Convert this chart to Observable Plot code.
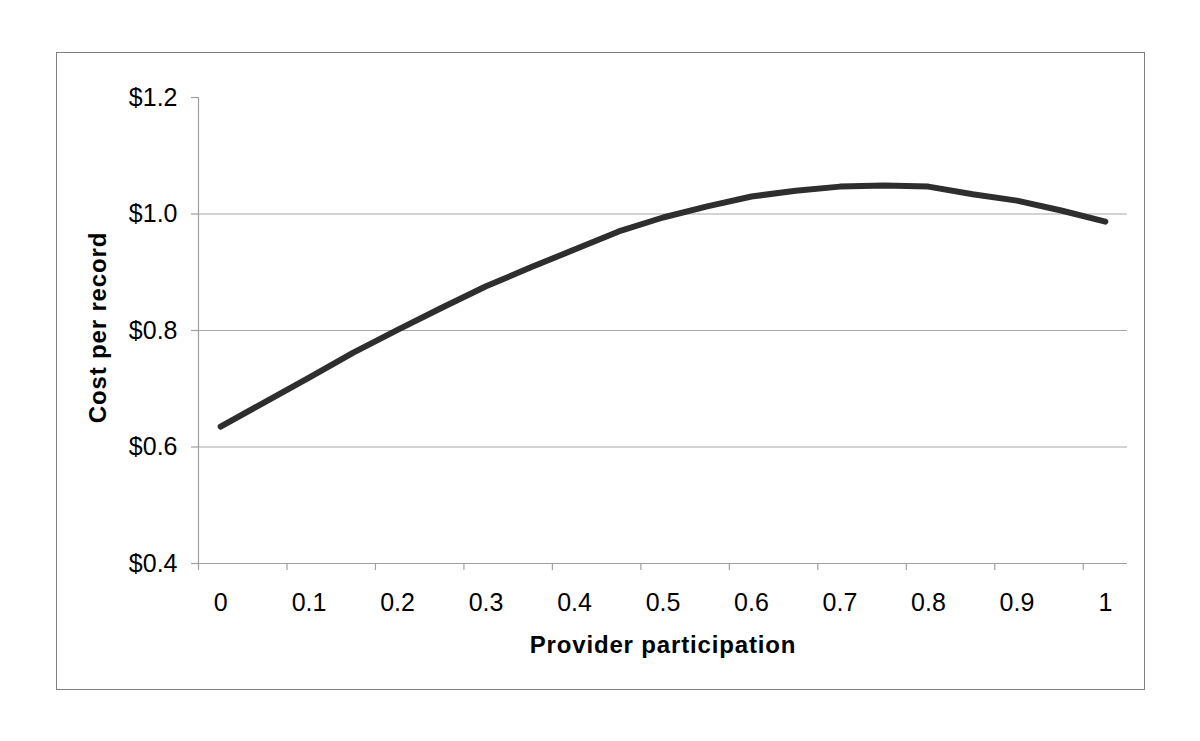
<!DOCTYPE html>
<html>
<head>
<meta charset="utf-8">
<script src="https://cdn.jsdelivr.net/npm/d3@7"></script>
<script src="https://cdn.jsdelivr.net/npm/@observablehq/plot@0.6"></script>
<style>
  html, body { margin: 0; padding: 0; background: #fff; }
  #wrap { position: relative; width: 1200px; height: 741px; }
  #border { position: absolute; left: 56px; top: 52px; width: 1087px; height: 636px; border: 1.5px solid #808080; pointer-events: none; }
</style>
</head>
<body>
<div id="wrap"><div id="border"></div></div>
<script>
// Data
const participation = [0, 0.05, 0.1, 0.15, 0.2, 0.25, 0.3, 0.35, 0.4, 0.45, 0.5, 0.55, 0.6, 0.65, 0.7, 0.75, 0.8, 0.85, 0.9, 0.95, 1];
const costPerRecord = [0.635, 0.677, 0.719, 0.762, 0.801, 0.839, 0.876, 0.908, 0.939, 0.970, 0.994, 1.013, 1.030, 1.040, 1.047, 1.049, 1.047, 1.034, 1.023, 1.006, 0.987];
const xTickLabels = [0, 0.1, 0.2, 0.3, 0.4, 0.5, 0.6, 0.7, 0.8, 0.9, 1];
const xTickMarks = [-0.025, 0.075, 0.175, 0.275, 0.375, 0.475, 0.575, 0.675, 0.775, 0.875, 0.975];
const yTicks = [0.4, 0.6, 0.8, 1.0, 1.2];
const yGrid = [0.6, 0.8, 1.0];
const xTitle = "Provider participation";
const yTitle = "Cost per record";

const data = participation.map((p, i) => ({p, c: costPerRecord[i]}));

const font = "'Liberation Sans', Arial, sans-serif";

const chart = Plot.plot({
  width: 1200,
  height: 741,
  marginLeft: 198,
  marginRight: 73,
  marginTop: 97,
  marginBottom: 178,
  style: {fontFamily: font, background: "transparent", color: "#000"},
  x: {domain: [-0.025, 1.025], axis: null},
  y: {domain: [0.4, 1.2], axis: null},
  marks: [
    Plot.ruleY(yGrid, {stroke: "#a8a8a8", strokeWidth: 1.2, strokeOpacity: 1}),
    Plot.ruleX([-0.025], {stroke: "#a0a0a0", strokeWidth: 1.2, strokeOpacity: 1}),
    Plot.ruleY([0.4], {stroke: "#a0a0a0", strokeWidth: 1.2, strokeOpacity: 1}),
    Plot.axisY({ticks: yTicks, tickSize: 7, tickPadding: 14, stroke: "#a0a0a0", strokeWidth: 1.2,
      tickFormat: d => "$" + d.toFixed(1), fontSize: 25, label: null, color: "#000"}),
    Plot.axisX({ticks: xTickMarks, tickSize: 7, tickFormat: () => "", stroke: "#a0a0a0", strokeWidth: 1.2, label: null}),
    Plot.axisX({ticks: xTickLabels, tickSize: 0, tickPadding: 30, tickFormat: d => String(d), fontSize: 25, label: null}),
    Plot.line(data, {x: "p", y: "c", stroke: "#2e2e2e", strokeWidth: 6, strokeLinecap: "round", strokeLinejoin: "round"}),
    Plot.text([xTitle], {frameAnchor: "bottom", lineAnchor: "middle", textAnchor: "middle", dy: 82, text: d => d, fontSize: 24, fontWeight: "bold", fill: "#000"}),
    Plot.text([yTitle], {frameAnchor: "left", lineAnchor: "middle", textAnchor: "middle", dx: -100, dy: -3, rotate: -90, text: d => d, fontSize: 24, fontWeight: "bold", fill: "#000"})
  ]
});
document.getElementById("wrap").appendChild(chart);
chart.style.position = "absolute";
chart.style.left = "0";
chart.style.top = "0";
d3.select(chart).selectAll("text")
  .filter(function () { return this.textContent === xTitle || this.textContent === yTitle; })
  .style("letter-spacing", "0.85px");
</script>
</body>
</html>
